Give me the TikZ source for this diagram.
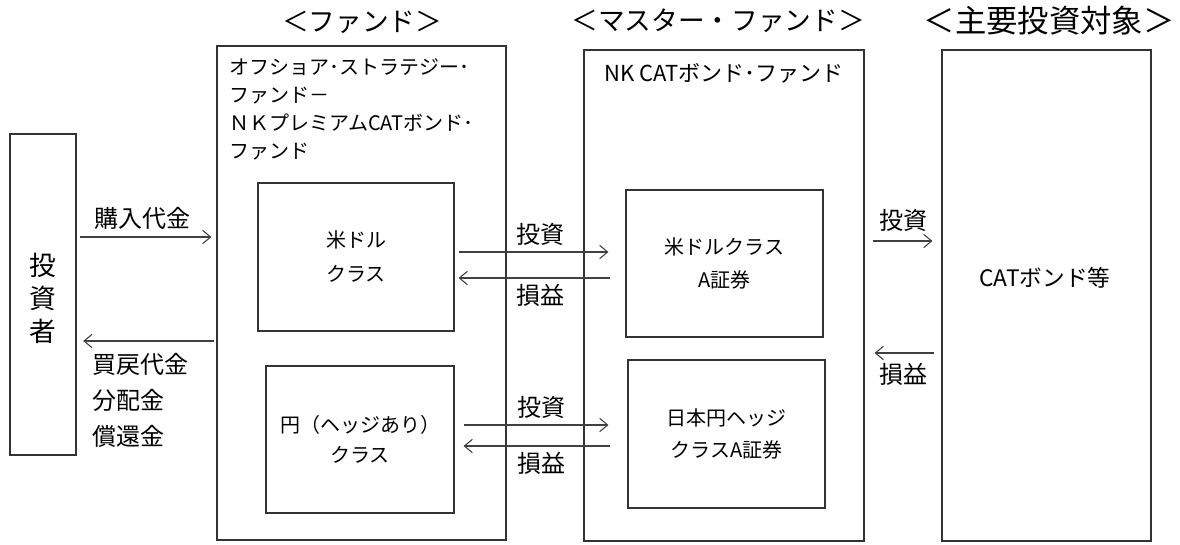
\documentclass[tikz,border=0pt]{standalone}
\usepackage{fontspec}
\setmainfont{Noto Sans CJK JP}
\usetikzlibrary{arrows.meta}

\begin{document}
\begin{tikzpicture}[x=0.75pt,y=-0.75pt,
  box/.style={draw=black!80, line width=0.8pt, inner sep=0pt},
  flow/.style={draw=black!75, line width=0.8pt, -{Straight Barb[length=6pt,width=10pt]}},
  lbl/.style={font=\fontsize{18}{21}\selectfont, inner sep=1pt},
  txt/.style={font=\fontsize{15}{18}\selectfont, inner sep=1pt},
  head/.style={font=\fontsize{20}{23}\selectfont}]

\useasboundingbox[fill=white] (0,0) rectangle (1180,545);

\node[head] (h1) at (362,22) {＜ファンド＞};
\node[head] (h2) at (718,21) {＜マスター・ファンド＞};
\node[head, font=\fontsize{23.5}{26}\selectfont] (h3) at (1049,21) {＜主要投資対象＞};

\node[box, minimum width=49.5pt, minimum height=240.75pt] (inv) at (43,294.5) {};
\node[align=center, font=\fontsize{20}{25}\selectfont] (invname) at (43,298.5) {投\\資\\者};

\node[box, minimum width=216.75pt, minimum height=370.5pt] (fund) at (361.5,293) {};
\node[txt, anchor=north west, align=left, font=\fontsize{15}{21}\selectfont] (fundname) at (228,57)
  {オフショア･ストラテジー･\\ファンド－\\ＮＫプレミアムCATボンド･\\ファンド};
\node[box, minimum width=147pt, minimum height=111pt, align=center,
  font=\fontsize{15}{25.5}\selectfont] (usd) at (356,257) {米ドル\\クラス};
\node[box, minimum width=141pt, minimum height=110.25pt, align=center,
  font=\fontsize{15}{22.5}\selectfont] (jpy) at (360,439.5) {円（ヘッジあり）\\クラス};

\node[box, minimum width=210pt, minimum height=368.25pt] (master) at (724,295.5) {};
\node[txt, font=\fontsize{16.5}{19}\selectfont] (mastername) at (724,73) {NK CATボンド･ファンド};
\node[box, minimum width=147.75pt, minimum height=110.25pt, align=center,
  font=\fontsize{15}{25}\selectfont] (musd) at (724.5,263.5) {米ドルクラス\\A証券};
\node[box, minimum width=147.75pt, minimum height=111pt, align=center,
  font=\fontsize{15}{24}\selectfont] (mjpy) at (726.5,434) {日本円ヘッジ\\クラスA証券};

\node[box, minimum width=156.75pt, minimum height=368.25pt] (target) at (1046.5,295.5) {};
\node[txt, font=\fontsize{17}{20}\selectfont] (cat) at (1045,278) {CATボンド等};

\path[flow, shorten <=2.25pt, shorten >=3.75pt] (inv.east |- 0,237) --
  node[lbl, above=4pt, pos=0.47] (buy) {購入代金} (fund.west |- 0,237);
\path[flow, shorten <=1.5pt, shorten >=5pt] (fund.west |- 0,341) -- (inv.east |- 0,341);
\node[lbl, anchor=north west, align=left, font=\fontsize{18}{27}\selectfont] (pay) at (91,352)
  {買戻代金\\分配金\\償還金};

\path[flow, shorten <=3pt, shorten >=12.75pt] (usd.east |- 0,252) --
  node[lbl, above=3.5pt] (inv1) {投資} (musd.west |- 0,252);
\path[flow, shorten <=11.25pt, shorten >=3pt] (musd.west |- 0,278) --
  node[lbl, below=3.5pt] (pl1) {損益} (usd.east |- 0,278);

\path[flow, shorten <=6.75pt, shorten >=14.25pt] (jpy.east |- 0,425) --
  node[lbl, above=3.5pt] (inv2) {投資} (mjpy.west |- 0,425);
\path[flow, shorten <=12.75pt, shorten >=6.75pt] (mjpy.west |- 0,446) --
  node[lbl, below=3.5pt] (pl2) {損益} (jpy.east |- 0,446);

\path[flow, shorten <=6pt, shorten >=6.75pt] (master.east |- 0,241) --
  node[lbl, above=5.5pt] (inv3) {投資} (target.west |- 0,241);
\path[flow, shorten <=5.25pt, shorten >=7.5pt] (target.west |- 0,353) --
  node[lbl, below=6.5pt] (pl3) {損益} (master.east |- 0,353);
\end{tikzpicture}
\end{document}
